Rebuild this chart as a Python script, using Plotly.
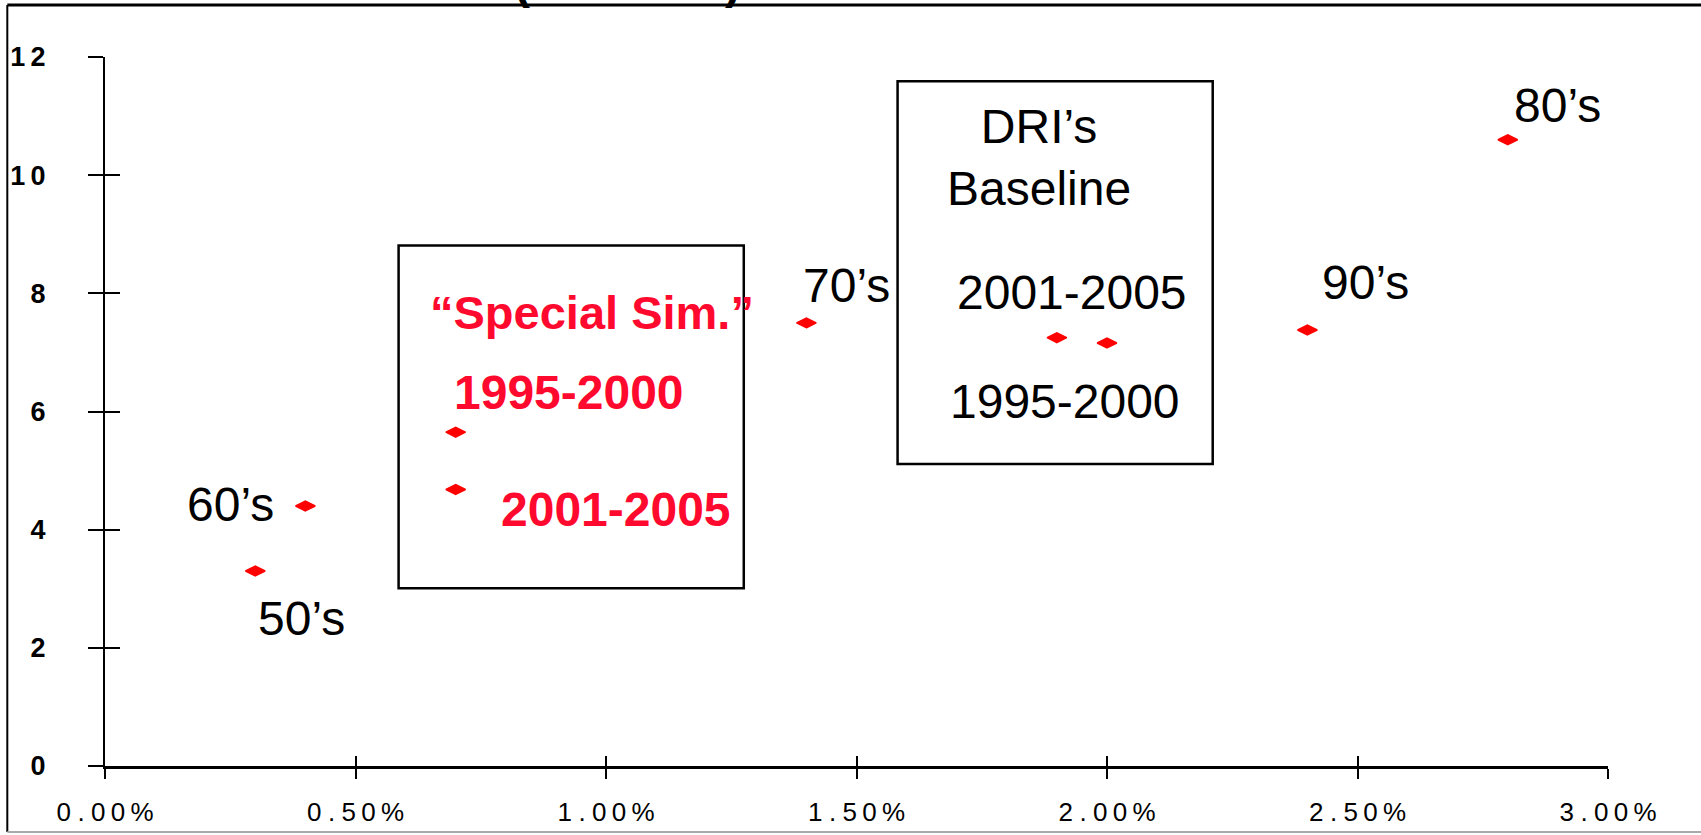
import plotly.graph_objects as go

# Average growth rate (%) vs. value, by period
periods = ["50’s", "60’s", "70’s", "80’s", "90’s"]
period_growth = [0.30, 0.40, 1.40, 2.80, 2.40]
period_value = [3.30, 4.40, 7.50, 10.60, 7.38]

sim_labels = ["1995-2000", "2001-2005"]
sim_growth = [0.70, 0.70]
sim_value = [5.65, 4.68]

dri_labels = ["1995-2000", "2001-2005"]
dri_growth = [1.90, 2.00]
dri_value = [7.25, 7.16]

x_ticks = [0.0, 0.5, 1.0, 1.5, 2.0, 2.5, 3.0]
x_ticktext = ["0.00%", "0.50%", "1.00%", "1.50%", "2.00%", "2.50%", "3.00%"]
y_ticks = [0, 2, 4, 6, 8, 10, 12]
y_ticktext = ["0", "2", "4", "6", "8", "1\u20090", "1\u20092"]

RED_MARK = "#FF0000"
RED_TEXT = "#FF0A2E"
SANS = "Liberation Sans, Arial, sans-serif"


def spaced(s):
    # letter-spaced tick text: wider gaps around the decimal point
    out = ""
    for i, ch in enumerate(s):
        if i:
            out += "\u2005" if ch == "." or s[i - 1] == "." else "\u2009"
        out += ch
    return out


fig = go.Figure()

marker = dict(symbol="diamond-wide", size=14, color=RED_MARK,
              line=dict(color=RED_MARK, width=1.5))
for xs, ys in [(period_growth, period_value), (sim_growth, sim_value),
               (dri_growth, dri_value)]:
    fig.add_trace(go.Scatter(x=xs, y=ys, mode="markers", marker=marker,
                             showlegend=False, hoverinfo="skip"))

# pixel offsets of each label from its point
period_shift = {"50’s": (46, -47), "60’s": (-75, 2), "70’s": (40, 37),
                "80’s": (50, 34), "90’s": (58, 47)}
sim_shift = {"1995-2000": (113, 40), "2001-2005": (160, -20)}
dri_shift = {"1995-2000": (8, -64), "2001-2005": (-35, 50)}

LABEL_SIZE = 48

annotations = []
for name, gx, vy in zip(periods, period_growth, period_value):
    dx, dy = period_shift[name]
    annotations.append(dict(x=gx, y=vy, xref="x", yref="y", text=name,
                            showarrow=False, xshift=dx, yshift=dy,
                            font=dict(family=SANS, size=LABEL_SIZE, color="black")))
for name, gx, vy in zip(sim_labels, sim_growth, sim_value):
    dx, dy = sim_shift[name]
    annotations.append(dict(x=gx, y=vy, xref="x", yref="y", text=f"<b>{name}</b>",
                            showarrow=False, xshift=dx, yshift=dy,
                            font=dict(family=SANS, size=LABEL_SIZE, color=RED_TEXT)))
for name, gx, vy in zip(dri_labels, dri_growth, dri_value):
    dx, dy = dri_shift[name]
    annotations.append(dict(x=gx, y=vy, xref="x", yref="y", text=name,
                            showarrow=False, xshift=dx, yshift=dy,
                            font=dict(family=SANS, size=LABEL_SIZE, color="black")))

# box headings
annotations.append(dict(x=0.973, y=7.67, xref="x", yref="y",
                        text="<b>“Special Sim.”</b>", showarrow=False,
                        font=dict(family=SANS, size=47, color=RED_TEXT)))
annotations.append(dict(x=1.864, y=10.30, xref="x", yref="y",
                        text="DRI’s<br>Baseline", showarrow=False, align="center",
                        font=dict(family=SANS, size=LABEL_SIZE, color="black")))

# tails of the clipped title above the frame
for px, ch in [(0.271, "("), (0.418, ")")]:
    annotations.append(dict(x=px, y=1.107, xref="paper", yref="paper", text=f"<b>{ch}</b>",
                            showarrow=False, yanchor="middle",
                            font=dict(family=SANS, size=48, color="black")))

shapes = [
    dict(type="rect", xref="x", yref="y", x0=0.586, x1=1.275, y0=3.01, y1=8.81,
         line=dict(color="black", width=2.5)),
    dict(type="rect", xref="x", yref="y", x0=1.582, x1=2.211, y0=5.11, y1=11.59,
         line=dict(color="black", width=2.5)),
    # outer frame
    dict(type="line", xref="paper", yref="paper", x0=-0.065, x1=1.07, y0=1.0733, y1=1.0733,
         line=dict(color="black", width=3)),
    dict(type="line", xref="paper", yref="paper", x0=-0.065, x1=-0.065, y0=1.0733, y1=-0.093,
         line=dict(color="black", width=2)),
    dict(type="line", xref="paper", yref="paper", x0=-0.065, x1=1.07, y0=-0.093, y1=-0.093,
         line=dict(color="#AAAAAA", width=2)),
]

fig.update_layout(
    width=1701, height=835,
    margin=dict(l=105, r=93, t=57, b=69, autoexpand=False),
    paper_bgcolor="white", plot_bgcolor="white",
    annotations=annotations, shapes=shapes,
    xaxis=dict(range=[0, 3.0], tickvals=x_ticks, ticktext=[spaced(t) for t in x_ticktext],
               showgrid=False, zeroline=False, showline=True, linecolor="black", linewidth=2.5,
               ticks="outside", ticklen=10, tickwidth=2, tickcolor="black",
               ticklabelstandoff=11, automargin=False,
               tickfont=dict(family=SANS, size=26, color="black")),
    yaxis=dict(range=[0, 12], tickvals=y_ticks, ticktext=y_ticktext,
               showgrid=False, zeroline=False, showline=True, linecolor="black", linewidth=2,
               ticks="outside", ticklen=15, tickwidth=2, tickcolor="black",
               ticklabelstandoff=37, automargin=False,
               tickfont=dict(family=SANS, size=27, color="black", weight="bold")),
    # companion axes supply the inner half of the crossing tick marks
    xaxis2=dict(range=[0, 3.0], tickvals=x_ticks, overlaying="x", anchor="y",
                side="bottom", showticklabels=False, showgrid=False, zeroline=False,
                showline=False, ticks="inside", ticklen=10, tickwidth=2, tickcolor="black",
                automargin=False),
    yaxis2=dict(range=[0, 12], tickvals=y_ticks, overlaying="y", anchor="x",
                side="left", showticklabels=False, showgrid=False, zeroline=False,
                showline=False, ticks="inside", ticklen=15, tickwidth=2, tickcolor="black",
                automargin=False),
)
# an invisible trace binds the companion axes
fig.add_trace(go.Scatter(x=[None], y=[None], xaxis="x2", yaxis="y2", showlegend=False))

fig.write_html("out.html")
